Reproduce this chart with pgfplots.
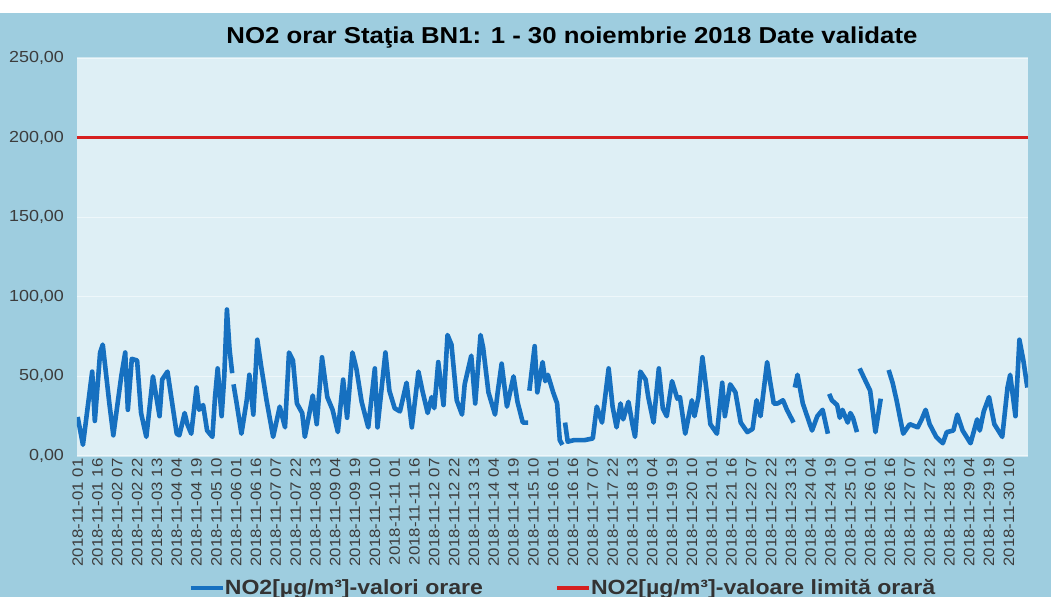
\documentclass[border=0pt]{standalone}
\usepackage{pgfplots}
\pgfplotsset{compat=1.18}
\usepackage{fontspec}
\setmainfont[FakeStretch=1.12]{Liberation Sans}
\definecolor{outerbg}{RGB}{158,205,223}
\definecolor{innerbg}{RGB}{222,239,245}
\definecolor{no2blue}{RGB}{22,112,192}
\definecolor{limred}{RGB}{214,32,32}
\definecolor{ticktxt}{RGB}{60,60,60}
\begin{document}
\begin{tikzpicture}
\useasboundingbox (0,0) rectangle (525.5pt,298.5pt);
\fill[white] (0,0) rectangle (525.5pt,298.5pt);
\fill[outerbg] (0,0) rectangle (525.5pt,292pt);
\begin{axis}[
  at={(38.5pt,70.5pt)}, anchor=south west,
  scale only axis, width=475.5pt, height=199pt,
  xmin=-0.5, xmax=719.5, ymin=0, ymax=250,
  axis line style={draw=none},
  axis background/.style={fill=innerbg},
  major tick length=0pt,
  ytick={0,50,...,250},
  ymajorgrids, grid style={draw=white, line width=0.6pt, opacity=0.5},
  yticklabel style={font=\fontsize{8}{9}\selectfont, text=ticktxt, xshift=-3pt},
  /pgf/number format/.cd, fixed, fixed zerofill, precision=2, use comma, assume math mode=true,
  /pgfplots/.cd,
  xtick={0,15,...,705},
  xticklabels={2018-11-01 01,2018-11-01 16,2018-11-02 07,2018-11-02 22,2018-11-03 13,2018-11-04 04,2018-11-04 19,2018-11-05 10,2018-11-06 01,2018-11-06 16,2018-11-07 07,2018-11-07 22,2018-11-08 13,2018-11-09 04,2018-11-09 19,2018-11-10 10,2018-11-11 01,2018-11-11 16,2018-11-12 07,2018-11-12 22,2018-11-13 13,2018-11-14 04,2018-11-14 19,2018-11-15 10,2018-11-16 01,2018-11-16 16,2018-11-17 07,2018-11-17 22,2018-11-18 13,2018-11-19 04,2018-11-19 19,2018-11-20 10,2018-11-21 01,2018-11-21 16,2018-11-22 07,2018-11-22 22,2018-11-23 13,2018-11-24 04,2018-11-24 19,2018-11-25 10,2018-11-26 01,2018-11-26 16,2018-11-27 07,2018-11-27 22,2018-11-28 13,2018-11-29 04,2018-11-29 19,2018-11-30 10},
  xticklabel style={font=\fontsize{7.5}{8}\selectfont, text=ticktxt, rotate=90, anchor=east, inner sep=1pt},
  title={NO2 orar Staţia BN1: 1 - 30 noiembrie 2018 Date validate},
  title style={font=\fontsize{11.5}{13}\selectfont\bfseries, at={(0.5205,1)}, anchor=center, yshift=4pt},
  unbounded coords=jump,
  legend columns=2,
  legend style={at={(0.51,-0.332)}, anchor=center, draw=none, fill=none,
    font=\fontsize{10.3}{12}\selectfont\bfseries, text=black!80,
    nodes={inner xsep=0pt},
    /tikz/every even column/.append style={column sep=36pt}},
  legend image code/.code={\draw[#1, line width=2pt] (0pt,0pt) -- (16pt,0pt);},
]
\addplot[no2blue, line width=2.3pt, line join=round] table {
x y
0 24.5
4 7
11 53
13 22
17 65
19 70
24 33
27 13
33 50
36 65
38 29
41 61
45 60
48 27
52 12
57 50
60 35
62 25
64 48
68 53
75 14
77 13
81 27
83 20
86 14
90 43
92 29
95 32
98 16
102 12
104 37
106 55
109 25
111 50
113 92
115 67
117 52
117.5 nan
118 45
120 35
124 14
128 35
130 51
133 26
136 73
139 56
143 35
148 12
153 31
157 18
160 65
163 60
166 33
170 27
172 12
178 38
181 20
185 62
189 37
193 29
197 15
201 48
204 24
208 65
211 55
215 34
220 18
225 55
227 18
233 65
236 41
240 30
244 28
249 46
253 18
258 53
261 41
265 27
268 37
270 30
273 59
277 32
280 76
283 70
287 35
291 26
293 45
298 63
301 33
305 76
307 68
311 40
316 26
318 40
321 58
325 31
330 50
333 34
337 21
341 21
341.5 nan
342 41
346 69
348 40
352 59
354 47
356 51
360 40
363 33
365 10
367 7
368 nan
369 21
371 9
376 10
384 10
390 11
393 31
397 21
402 55
405 31
408 18
411 33
413 23
417 34
420 20
422 12
426 53
430 48
432 37
436 21
440 55
443 30
446 25
450 47
454 36
456 37
460 14
465 35
467 25
470 37
473 62
476 42
479 20
484 14
488 46
490 25
494 45
498 40
502 21
507 15
511 17
514 35
517 25
522 59
524 48
527 33
530 33
534 35
537 29
542 21
542.5 nan
543 43
545 51
549 33
556 16
560 25
564 29
568 14
568.5 nan
569 39
571 35
575 32
577 24
579 29
583 21
585 27
587 24
590 15
591 nan
592 55
596 48
600 41
604 15
608 36
611 nan
614 54
617 46
620 35
625 14
630 20
636 18
639 23
642 29
645 20
650 12
655 8
658 15
663 16
666 26
670 16
676 8
681 23
683 16
686 28
690 37
694 20
700 12
704 43
706 51
710 25
713 73
716 60
719 43
};
\addlegendentry{NO2[µg/m³]-valori orare}
\addplot[limred, line width=1.6pt] coordinates {(-0.5,200) (719.5,200)};
\addlegendentry{NO2[µg/m³]-valoare limită orară}
\end{axis}
\end{tikzpicture}
\end{document}
